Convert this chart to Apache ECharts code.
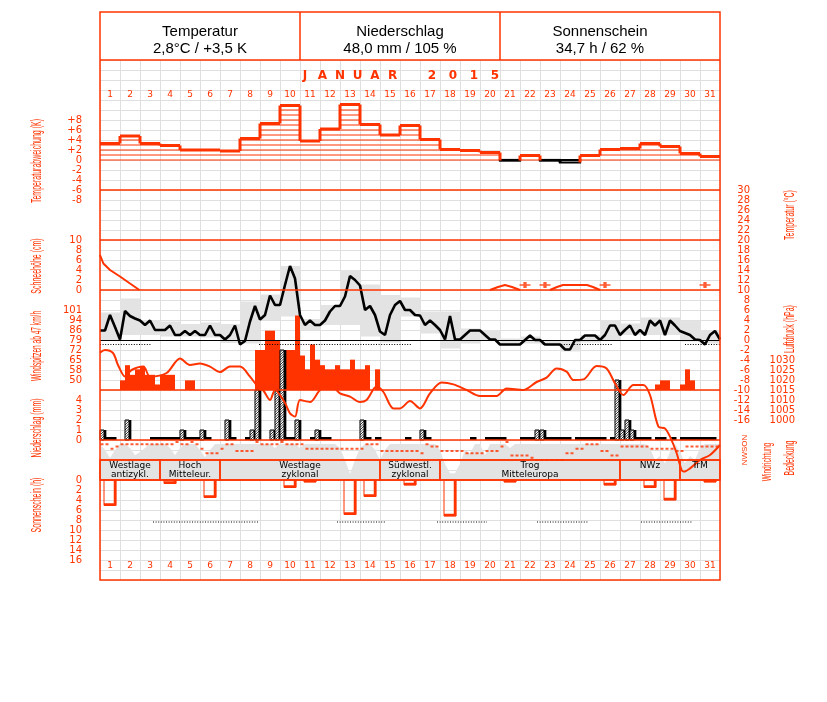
<!DOCTYPE html>
<html><head><meta charset="utf-8">
<script src="https://cdn.jsdelivr.net/npm/echarts@6/dist/echarts.min.js"></script>
<style>html,body{margin:0;padding:0;background:#fff}#c{width:827px;height:702px}</style>
</head><body><div id="c"></div><script>
// ---------------- DATA ----------------
const dayLabels = ['1','2','3','4','5','6','7','8','9','10','11','12','13','14','15','16','17','18','19','20','21','22','23','24','25','26','27','28','29','30','31'];
const headerTitles = ['Temperatur','Niederschlag','Sonnenschein'];
const headerValues = ['2,8°C / +3,5 K','48,0 mm / 105 %','34,7 h / 62 %'];
// daily temperature deviation (K)
const tempDeviation = [3.3,4.8,3.3,2.9,2.0,2.0,1.8,4.3,7.3,10.9,3.8,6.2,11.1,7.1,5.0,6.9,4.1,2.1,1.9,1.5,-0.1,0.9,-0.1,-0.5,0.9,2.1,2.3,3.3,2.7,1.3,0.7];
// 6-hourly air temperature (°C), 4 per day + end value
const temp6h = [
 1.9,1.9,5.0,2.6,  0.1,5.8,4.8,4.3,  3.9,3.0,3.9,2.0,  2.0,2.0,2.9,1.0,  1.0,1.8,1.0,1.8,
 1.0,1.0,2.9,1.0,  1.0,0.1,1.0,2.9,  -0.9,-0.2,3.7,6.8, 4.1,5.0,8.9,7.0, 7.0,11.0,14.8,12.3,
 5.0,3.0,3.9,3.0,  3.0,3.9,5.7,6.8,  6.8,8.7,12.8,12.0, 10.9,6.0,6.8,5.0, 1.7,1.0,5.0,7.0,
 7.8,6.0,6.0,5.0,  4.9,3.0,3.9,3.0,  2.0,0.1,4.8,0.1,  0.1,1.0,1.9,1.9,  1.9,1.0,0.1,0.1,
 -0.9,-0.9,-0.9,-0.9, -0.9,0.0,0.9,0.0, 0.0,-0.9,-0.9,-0.9, -0.9,-1.9,-1.9,0.0, 0.0,0.9,0.9,0.9,
 0.0,1.0,2.9,2.9,  1.0,2.0,2.9,1.0,  2.0,1.0,3.9,2.9,  3.9,1.0,3.9,2.9,  1.8,1.4,1.0,0.1,
 0.0,-0.9,1.0,1.8, 0.1];
const tempDailyMax = [5.5,8.3,4.0,3.7,3.2,3.5,3.2,7.7,9.1,14.8,4.2,7.0,14.0,11.1,9.0,8.5,5.7,5.7,2.3,2.0,0.3,0.7,0.0,0.0,1.0,4.0,3.3,4.5,4.5,3.9,2.0];
const tempDailyMin = [0.0,1.0,1.0,0.7,0.7,0.5,-0.6,-0.7,4.0,4.7,2.0,3.0,3.0,0.7,-0.5,4.7,1.3,-1.7,-0.7,0.0,-1.0,-0.7,-1.0,-2.3,-0.5,-0.2,1.0,1.0,1.0,-0.3,-0.7];
const tempDotStart = [0, 7.95, 22.15, 29.25];
const tempDotEnd   = [2.6, 15.6, 25.65, 31];
const tempDotLevel = -0.9;
// snow depth (cm); null separates segments
const snowTimes = [0,0.17,0.5,1,1.5,1.97,null,19.5,19.9,20.25,20.6,21,null,22.5,22.85,23.15,24.35,24.65,25];
const snowDepth = [7,5.3,4,2.7,1.3,0,null,0,0.6,1,0.6,0,null,0,0.6,1,1,0.6,0];
const snowPatchTimes = [21.25,22.25,25.25,30.25];
const snowPatchDepth = 1;
// wind gusts >= 47 km/h, 6-hourly
const windPeaks6h = [
 [null,null,null,null],[50,61,54,58],[60,54,54,47],[54,54,54,null],[null,50,50,null],
 [null,null,null,null],[null,null,null,null],[null,null,null,72],[72,86,86,79],[72,72,72,97],
 [68,58,76,65],[61,58,58,61],[58,58,65,58],[58,61,null,58],[null,null,null,null],
 [null,null,null,null],[null,null,null,null],[null,null,null,null],[null,null,null,null],[null,null,null,null],
 [null,null,null,null],[null,null,null,null],[null,null,null,null],[null,null,null,null],[null,null,null,null],
 [null,null,null,null],[null,null,null,null],[null,null,null,47],[50,50,null,null],[47,58,50,null],
 [null,null,null,null]];
const windTickLabels = ['','50','58','65','72','79','86','94','101'];
// air pressure (hPa)
const pressureTimes = [0,0.25,0.65,0.9,1.25,1.58,2.17,2.5,3.33,4,4.5,5,5.5,6,6.5,7,7.5,7.83,8.15,8.5,8.75,9.25,9.5,9.75,10,10.5,11,11.5,12,12.5,13,13.33,13.83,14.17,14.67,15,15.5,16,16.5,17.08,17.67,18.33,19,19.83,20.33,21.17,21.83,22.33,22.83,23.33,23.67,24.17,24.83,25.33,25.75,26.17,26.67,27.17,27.5,27.92,28.25,28.5,28.83,29.08,29.2,29.5,30,30.5,31];
const pressureHpa = [1033.7,1035,1033.5,1027.5,1021.7,1025,1026.7,1021.7,1023.5,1030.8,1027.5,1028.3,1026.7,1024,1026.7,1026.7,1021.7,1017.5,1015,1010,1015,1008.5,1003.3,1001.7,1010,1009,1015,1017.5,1013.3,1011.7,1009,1010,1016.7,1014,1005.8,1005.8,1009.5,1005.8,1013.3,1018.7,1017.8,1015,1012,1012,1015.8,1015,1019,1021.2,1025.8,1024.2,1020,1020.3,1027,1025.8,1018.3,1012.5,1017.5,1017.5,1012.5,996.7,995.8,991.7,983.5,975,974.2,975.8,980,982.5,987.5];
// precipitation (mm), 6-hourly
const precip6h = [
 [1.0,0.2,0.1,0],[0,2.0,0,0],[0,0,0.2,0.2],[0.2,0.2,0.2,0.2],[1.0,0.2,0.2,0.2],
 [1.0,0.2,0,0],[0,2.0,0.2,0],[0,0.2,1.0,5.0],[0,0,1.0,5.0],[9.0,0.2,0.2,2.0],
 [0,0,0.2,1.0],[0.2,0.2,0,0],[0,0,0,0],[2.0,0.2,0,0.2],[0,0,0,0],
 [0,0.2,0,0],[1.0,0.2,0,0],[0,0,0,0],[0,0,0.2,0],[0,0.2,0.2,0.2],
 [0.2,0,0,0],[0.2,0.2,0.2,1.0],[1.0,0.2,0.2,0.2],[0.2,0.2,0,0.2],[0.2,0.2,0.2,0.2],
 [0.2,0,0.2,6.0],[1.0,2.0,1.0,0.2],[0.2,0.2,0,0.2],[0.2,0,0.2,0],[0.2,0.2,0.2,0.2],
 [0.2,0.2,0.2,0]];
// relative humidity (%), 6-hourly + end value
const humidity6h = [
 90,75,55,75, 90,90,80,62, 70,80,90,90, 90,90,80,62, 80,90,90,90,
 75,57,75,90, 90,90,90,90, 90,90,90,90, 90,90,90,80, 90,90,90,90,
 80,90,90,90, 90,90,90,90, 80,50,15,50, 80,90,90,75, 50,75,90,90,
 90,90,90,90, 90,90,90,90, 75,40,17,17, 40,75,67,90, 90,62,90,90,
 90,90,80,90, 90,90,90,90, 90,90,90,90, 90,90,90,90, 90,90,90,90,
 90,90,90,90, 90,90,90,90, 90,90,80,50, 60,42,70,90, 70,42,60,50,
 80,90,90,90, 90];
// cloud cover (octas), 6-hourly
const cloudCover6h = [
 [7,7,5,6],[7,7,7,7],[7,7,7,7],[7,7,7,8],[7,7,8,7],[5,3,3,3],[5,7,7,4],[4,4,4,8],
 [7,7,7,7],[8,7,7,7],[7,5,5,5],[5,5,5,5],[5,5,5,5],[5,7,7,7],[4,4,4,4],[4,4,4,4],
 [3,7,6,6],[4,4,4,4],[4,3,3,3],[3,4,4,4],[6,8,2,2],[2,2,1,0],[0,0,0,0],[0,3,3,5],
 [5,7,7,7],[4,4,2,2],[6,6,6,6],[6,6,5,5],[5,5,5,4],[4,6,6,6],[6,6,6,6]];
// weather types (Großwetterlagen)
const weatherTypeStart = [0,3,6,14,17,26,29];
const weatherTypeEnd   = [3,6,14,17,26,29,31];
const weatherTypeLine1 = ['Westlage','Hoch','Westlage','Südwestl.','Trog','NWz','TrM'];
const weatherTypeLine2 = ['antizykl.','Mitteleur.','zyklonal','zyklonal','Mitteleuropa','',''];
// sunshine (h)
const sunshineHours = [5.1,0,0,0.7,0,3.5,0,0,0,1.5,0.3,0,6.9,3.3,0,1.0,0,7.2,0,0,0.3,0,0,0,0,1.0,0,1.5,4.0,0,0.2];
const sunDotStart = [2.65,11.85,16.85,21.85,27.05];
const sunDotEnd   = [7.9,14.3,19.35,24.4,29.6];
const sunDotLevel = 8.4;

// ---------------- STYLE / LAYOUT ----------------
const RED = '#ff3300';
const GRIDGRAY = '#dfdfdf';
const FILLGRAY = '#e3e3e3';
const LBL = {color: RED, fontSize: 10, fontFamily: 'DejaVu Sans'};

const gridDefs = [[60,520],[100,110],[190,230],[240,50],[310,80],[340,140],[340,100],[440,40],[442,18],[460,20],[480,80],[100,1],[559,1]];
const grids = gridDefs.map(g => ({left:100, width:620, top:g[0], height:g[1]}));

const xAxes = [];
for (let i = 0; i <= 10; i++) {
  xAxes.push({gridIndex:i, type:'value', min:0, max:31, interval:1, show: i === 0,
    axisLine:{show:false}, axisTick:{show:false}, axisLabel:{show:false},
    splitLine:{show: i === 0, lineStyle:{color:GRIDGRAY, width:1}}});
}
xAxes.push({gridIndex:11, type:'category', data:dayLabels, position:'top',
  axisLine:{show:false}, axisTick:{show:false}, axisLabel:{color:RED, fontSize:9, fontFamily:'DejaVu Sans', margin:1, interval:0}});
xAxes.push({gridIndex:12, type:'category', data:dayLabels, position:'bottom',
  axisLine:{show:false}, axisTick:{show:false}, axisLabel:{color:RED, fontSize:9, fontFamily:'DejaVu Sans', margin:1, interval:0}});

function yAx(o) {
  return Object.assign({type:'value', axisLine:{show:false}, axisTick:{show:false}, splitLine:{show:false}}, o);
}
const yAxes = [
  yAx({gridIndex:0, min:0, max:52, interval:1, axisLabel:{show:false}, splitLine:{show:true, lineStyle:{color:GRIDGRAY, width:1}}}),
  yAx({gridIndex:1, min:-10, max:12, interval:2, axisLabel:Object.assign({margin:18, formatter:v => (v < -8 || v > 8) ? '' : (v > 0 ? '+' + v : String(v))}, LBL)}),
  yAx({gridIndex:2, min:-16, max:30, interval:2, position:'right', axisLabel:Object.assign({margin:30, align:'right'}, LBL)}),
  yAx({gridIndex:3, min:0, max:10, interval:2, axisLabel:Object.assign({margin:18}, LBL)}),
  yAx({gridIndex:4, min:43, max:101, interval:7.25, axisLabel:Object.assign({margin:18, formatter:v => windTickLabels[Math.round((v - 43) / 7.25)] || ''}, LBL)}),
  yAx({gridIndex:5, min:970, max:1040, interval:5, position:'right', axisLabel:Object.assign({margin:75, align:'right', formatter:v => (v >= 1000 && v <= 1030) ? String(v) : ''}, LBL)}),
  yAx({gridIndex:6, min:0, max:10, interval:1, axisLabel:Object.assign({margin:18, formatter:v => v <= 4 ? String(v) : ''}, LBL)}),
  yAx({gridIndex:7, min:0, max:100, show:false}),
  yAx({gridIndex:8, min:0, max:8, show:false}),
  yAx({gridIndex:9, min:0, max:1, show:false}),
  yAx({gridIndex:10, min:0, max:16, interval:2, inverse:true, axisLabel:Object.assign({margin:18}, LBL)}),
  yAx({gridIndex:11, show:false}),
  yAx({gridIndex:12, show:false})
];

function hatch(x0, y0, x1, y1, step) {
  const out = [];
  for (let c = x0 + y0; c <= x1 + y1; c += step) {
    const xa = Math.max(x0, c - y1), xb = Math.min(x1, c - y0);
    if (xb > xa) out.push({type:'line', shape:{x1:xa, y1:c - xa, x2:xb, y2:c - xb}, style:{stroke:'#000', lineWidth:0.8}});
  }
  return out;
}

const series = [];

// gray daily temperature range
series.push({type:'custom', xAxisIndex:2, yAxisIndex:2, z:1,
  data: tempDailyMax.map((mx, i) => [i, tempDailyMin[i], mx]),
  renderItem(p, api) {
    const d = api.value(0);
    const a = api.coord([d, api.value(2)]), b = api.coord([d + 1, api.value(1)]);
    return {type:'rect', shape:{x:a[0], y:a[1], width:b[0] - a[0], height:Math.max(b[1] - a[1], 1)}, style:{fill:FILLGRAY}};
  }});

// humidity gray band
series.push({type:'line', xAxisIndex:7, yAxisIndex:7, z:1, showSymbol:false, smooth:false,
  data: humidity6h.map((v, i) => [i / 4, v]),
  lineStyle:{width:0}, areaStyle:{color:FILLGRAY, opacity:1}});

// temperature deviation (hatched steps)
series.push({type:'custom', xAxisIndex:1, yAxisIndex:1, z:3,
  data: tempDeviation.map((v, i) => [i, v, i > 0 ? tempDeviation[i - 1] : v]),
  renderItem(p, api) {
    const d = api.value(0), v = api.value(1), pv = api.value(2);
    const a = api.coord([d, 0]), b = api.coord([d + 1, v]);
    const x0 = a[0], x1 = b[0], yb = a[1], yt = b[1];
    const ch = [{type:'line', shape:{x1:x0, y1:yb, x2:x1, y2:yb}, style:{stroke:RED, lineWidth:1}}];
    if (v >= 0) {
      for (let k = 1; k < v; k++) {
        const yk = api.coord([d, k])[1];
        ch.push({type:'line', shape:{x1:x0, y1:yk, x2:x1, y2:yk}, style:{stroke:RED, lineWidth:1}});
      }
      ch.push({type:'line', shape:{x1:x0, y1:yt, x2:x1, y2:yt}, style:{stroke:RED, lineWidth:3}});
    } else {
      ch.push({type:'rect', shape:{x:x0, y:yb, width:x1 - x0, height:Math.max(yt - yb, 0.6)}, style:{fill:'none', stroke:'#000', lineWidth:2.2}});
    }
    if (d > 0) {
      const yp = api.coord([d, pv])[1];
      ch.push({type:'line', shape:{x1:x0, y1:yp, x2:x0, y2:yt}, style:{stroke:(v < 0 && pv < 0) ? '#000' : RED, lineWidth:3}});
    }
    return {type:'group', children:ch};
  }});

// snow depth
let seg = [];
const snowSegs = [];
snowTimes.forEach((t, i) => {
  if (t === null) { if (seg.length) snowSegs.push(seg); seg = []; }
  else seg.push([t, snowDepth[i]]);
});
if (seg.length) snowSegs.push(seg);
snowSegs.forEach(s => series.push({type:'line', xAxisIndex:3, yAxisIndex:3, z:3, data:s, showSymbol:false, lineStyle:{color:RED, width:2}}));
series.push({type:'scatter', xAxisIndex:3, yAxisIndex:3, z:3,
  data: snowPatchTimes.map(t => [t, snowPatchDepth]),
  symbol:'path://M0,3L10,3L10,5L0,5Z M3.5,0L6.5,0L6.5,8L3.5,8Z', symbolSize:[11,6], itemStyle:{color:RED}});

// wind gusts
const windData = [];
windPeaks6h.forEach((day, i) => day.forEach((v, k) => { if (v !== null) windData.push([i + k / 4, v]); }));
series.push({type:'custom', xAxisIndex:4, yAxisIndex:4, z:2, data:windData,
  renderItem(p, api) {
    const t = api.value(0);
    const a = api.coord([t, 43]), b = api.coord([t + 0.25, api.value(1)]);
    return {type:'rect', shape:{x:a[0], y:b[1], width:b[0] - a[0], height:a[1] - b[1]}, style:{fill:RED}};
  }});

// precipitation
const precData = [];
precip6h.forEach((day, i) => day.forEach((v, k) => { if (v > 0) precData.push([i + k / 4, v]); }));
series.push({type:'custom', xAxisIndex:6, yAxisIndex:6, z:4, data:precData,
  renderItem(p, api) {
    const t = api.value(0);
    const a = api.coord([t, 0]), b = api.coord([t + 0.25, api.value(1)]);
    const x0 = a[0], yb = a[1], w = b[0] - a[0];
    if (yb - b[1] < 4) {
      return {type:'rect', shape:{x:x0, y:yb - 3, width:w + 1.5, height:3}, style:{fill:'#000'}};
    }
    const yt = b[1];
    const ch = [];
    ch.push({type:'rect', shape:{x:x0 + w * 0.75, y:yt, width:2.6, height:yb - yt}, style:{fill:'#000'}});
    ch.push({type:'rect', shape:{x:x0, y:yt, width:w * 0.8, height:yb - yt}, style:{fill:'#fff', stroke:'#000', lineWidth:1}});
    hatch(x0, yt, x0 + w * 0.8, yb, 2.5).forEach(l => ch.push(l));
    return {type:'group', children:ch};
  }});

// pressure
series.push({type:'line', xAxisIndex:5, yAxisIndex:5, z:5, clip:false, showSymbol:false, smooth:0.3,
  data: pressureTimes.map((t, i) => [t, pressureHpa[i]]),
  lineStyle:{color:RED, width:2}});

// temperature line
series.push({type:'line', xAxisIndex:2, yAxisIndex:2, z:6, showSymbol:false,
  data: temp6h.map((v, i) => [i / 4, v]),
  lineStyle:{color:'#000', width:2.6},
  markLine:{silent:true, symbol:'none', label:{show:false}, lineStyle:{color:'#000', width:1, type:'solid'}, data:[{yAxis:0}]}});

function dotted(xi, yi, starts, ends, level) {
  return {type:'custom', xAxisIndex:xi, yAxisIndex:yi, z:6,
    data: starts.map((s, i) => [s, ends[i], level]),
    renderItem(p, api) {
      const a = api.coord([api.value(0), api.value(2)]), b = api.coord([api.value(1), api.value(2)]);
      return {type:'line', shape:{x1:a[0], y1:a[1], x2:b[0], y2:b[1]}, style:{stroke:'#000', lineWidth:1, lineDash:[1, 1.6]}};
    }};
}
series.push(dotted(2, 2, tempDotStart, tempDotEnd, tempDotLevel));

// cloud cover
const cloudData = [];
cloudCover6h.forEach((day, i) => day.forEach((v, k) => cloudData.push([i + k / 4 + 0.1, v])));
series.push({type:'scatter', xAxisIndex:8, yAxisIndex:8, z:7, data:cloudData,
  symbol:'rect', symbolSize:[3, 2], itemStyle:{color:RED}});

// weather types
series.push({type:'custom', xAxisIndex:9, yAxisIndex:9, z:8,
  data: weatherTypeStart.map((s, i) => [s, weatherTypeEnd[i], i]),
  renderItem(p, api) {
    const i = api.value(2);
    const a = api.coord([api.value(0), 1]), b = api.coord([api.value(1), 0]);
    const cx = (a[0] + b[0]) / 2;
    const ch = [{type:'rect', shape:{x:a[0], y:a[1], width:b[0] - a[0], height:b[1] - a[1]}, style:{fill:'none', stroke:RED, lineWidth:1.5}}];
    ch.push({type:'text', style:{text:weatherTypeLine1[i], x:cx, y:a[1] + 6, fill:'#000', font:'9px "DejaVu Sans"', align:'center', verticalAlign:'middle'}});
    if (weatherTypeLine2[i]) ch.push({type:'text', style:{text:weatherTypeLine2[i], x:cx, y:a[1] + 14.5, fill:'#000', font:'9px "DejaVu Sans"', align:'center', verticalAlign:'middle'}});
    return {type:'group', children:ch};
  }});

// sunshine
series.push({type:'custom', xAxisIndex:10, yAxisIndex:10, z:4,
  data: sunshineHours.map((h, i) => [i, h]).filter(d => d[1] > 0),
  renderItem(p, api) {
    const d = api.value(0);
    const a = api.coord([d + 0.2, 0]), b = api.coord([d + 0.8, api.value(1)]);
    const xa = a[0], y0 = a[1], xb = b[0], yh = Math.max(b[1], y0 + 2);
    return {type:'group', children:[
      {type:'rect', shape:{x:xa, y:y0, width:xb - xa, height:yh - y0}, style:{fill:'none', stroke:RED, lineWidth:1}},
      {type:'line', shape:{x1:xb - 1, y1:y0, x2:xb - 1, y2:yh}, style:{stroke:RED, lineWidth:2.5}},
      {type:'line', shape:{x1:xa, y1:yh - 1, x2:xb, y2:yh - 1}, style:{stroke:RED, lineWidth:2.5}}
    ]};
  }});
series.push(dotted(10, 10, sunDotStart, sunDotEnd, sunDotLevel));

// ---------------- GRAPHIC (frame, titles) ----------------
const G = [];
const line = (x1, y1, x2, y2, w) => ({type:'line', z:100, shape:{x1, y1, x2, y2}, style:{stroke:RED, lineWidth:w || 1.5}});
G.push({type:'rect', z:100, shape:{x:100, y:12, width:620, height:568}, style:{fill:'none', stroke:RED, lineWidth:1.5}});
G.push(line(100, 60, 720, 60));
G.push(line(300, 12, 300, 60));
G.push(line(500, 12, 500, 60));
[190, 240, 290, 390, 440, 460, 480].forEach(y => G.push(line(100, y, 720, y)));
headerTitles.forEach((t, i) => {
  const cx = 200 + i * 200;
  G.push({type:'text', z:100, x:cx, y:32, style:{text:t, font:'15px "Liberation Sans"', fill:'#000', align:'center', verticalAlign:'middle', textAlign:'center', textVerticalAlign:'middle'}});
  G.push({type:'text', z:100, x:cx, y:48.5, style:{text:headerValues[i], font:'15px "Liberation Sans"', fill:'#000', align:'center', verticalAlign:'middle', textAlign:'center', textVerticalAlign:'middle'}});
});
// month title letters
const monthChars = 'JANUAR'.split(''), yearChars = '2015'.split('');
monthChars.forEach((c, i) => G.push({type:'text', z:100, x:305 + i * 17.5, y:76, style:{text:c, font:'bold 12px "DejaVu Sans"', fill:RED, align:'center', verticalAlign:'middle', textAlign:'center', textVerticalAlign:'middle'}}));
yearChars.forEach((c, i) => G.push({type:'text', z:100, x:432 + i * 21, y:76, style:{text:c, font:'bold 12px "DejaVu Sans"', fill:RED, align:'center', verticalAlign:'middle', textAlign:'center', textVerticalAlign:'middle'}}));
// rotated axis titles
const vt = (text, x, y, size, sc) => ({type:'text', z:100, x, y, rotation:Math.PI / 2, scaleX:sc, scaleY:1,
  style:{text, font:size + 'px "Liberation Sans"', fill:RED, align:'center', verticalAlign:'middle', textAlign:'center', textVerticalAlign:'middle'}});
G.push(vt('Temperaturabweichung (K)', 37, 161, 14, 0.5));
G.push(vt('Schneehöhe (cm)', 37, 266, 14, 0.5));
G.push(vt('Windspitzen ab 47 km/h', 37, 346, 14, 0.47));
G.push(vt('Niederschlag (mm)', 37, 428, 14, 0.5));
G.push(vt('Sonnenschein (h)', 37, 505, 14, 0.5));
G.push(vt('Temperatur (°C)', 790, 215, 14, 0.5));
G.push(vt('Luftdruck (hPa)', 790, 329, 14, 0.5));
G.push(vt('Windrichtung', 768, 462, 12, 0.55));
G.push(vt('Bedeckung', 790, 458, 14, 0.5));
G.push(vt('NWSON', 745, 450, 8, 1.0));

const chart = echarts.init(document.getElementById('c'), null, {renderer:'canvas'});
chart.setOption({
  animation:false,
  backgroundColor:'#fff',
  grid:grids, xAxis:xAxes, yAxis:yAxes, series,
  graphic:{elements:G}
});
</script></body></html>
